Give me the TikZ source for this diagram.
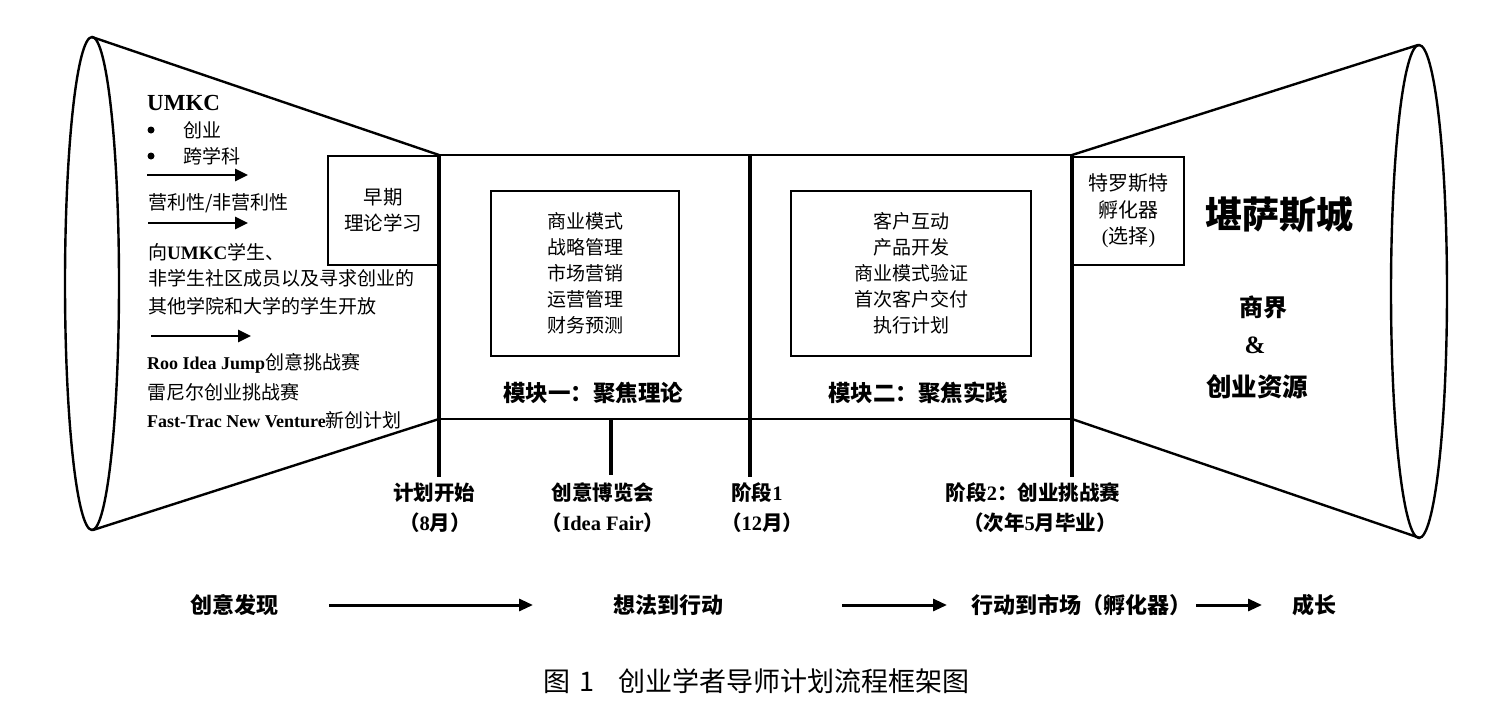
\documentclass[tikz,border=0pt]{standalone}
\usepackage{fontspec}
\setmainfont{Noto Sans CJK SC}
\newfontfamily\lat{Liberation Serif}
\usetikzlibrary{arrows.meta}
\tikzset{
  frameline/.style={line width=2pt},
  barline/.style={line width=4.5pt},
  funnel/.style={line width=2.4pt},
  txt/.style={inner sep=0pt, anchor=west, font=\fontsize{19}{22}\selectfont},
  boxtxt/.style={inner sep=0pt, align=center, font=\fontsize{19}{26}\selectfont},
  lbl/.style={inner sep=0pt, font=\bfseries\fontsize{20.5}{22}\selectfont},
  modlbl/.style={inner sep=0pt, font=\bfseries\fontsize{22.5}{24}\selectfont},
  flowtxt/.style={inner sep=0pt, font=\bfseries\fontsize{22}{24}\selectfont},
  dot/.style={circle, fill, inner sep=0pt, minimum size=7pt},
  smallarrow/.style={line width=2.8pt, -{Triangle[length=13pt,width=12pt]}},
  flowarrow/.style={line width=3pt, -{Triangle[length=14pt,width=12pt]}},
}
\begin{document}
\begin{tikzpicture}[x=1pt,y=-1pt]
\useasboundingbox[fill=white] (0,0) rectangle (1500,720);

% key coordinates
\coordinate (LT) at (92,37);
\coordinate (LB) at (93,530);
\coordinate (RT) at (1418,45);
\coordinate (RB) at (1420,538);
\coordinate (A) at (439,155);
\coordinate (B) at (1072,155);
\coordinate (C) at (1072,419);
\coordinate (D) at (439,419);

% funnels
\draw[funnel] (92,283.5) ellipse [x radius=27, y radius=246.5];
\draw[funnel] (1419,291.5) ellipse [x radius=28, y radius=246.5];
\draw[funnel] (LT) -- (A);
\draw[funnel] (LB) -- (D);
\draw[funnel] (RT) -- (B);
\draw[funnel] (RB) -- (C);

% main frame
\draw[frameline] (A) rectangle (C);

% side boxes
\node[draw, frameline, minimum width=110, minimum height=109, anchor=north east, boxtxt, font=\fontsize{19.5}{26}\selectfont] (early) at (439,155) {早期\\理论学习};
\node[draw, frameline, minimum width=111, minimum height=108, anchor=north west, boxtxt, font=\fontsize{20}{26.5}\selectfont] (incub) at (1072,156) {特罗斯特\\孵化器\\{\lat(}选择{\lat)}};

% inner boxes
\node[draw, frameline, minimum width=188, minimum height=165, boxtxt] (mod1) at (585,273.5) {商业模式\\战略管理\\市场营销\\运营管理\\财务预测};
\node[draw, frameline, minimum width=240, minimum height=165, boxtxt] (mod2) at (911,273.5) {客户互动\\产品开发\\商业模式验证\\首次客户交付\\执行计划};
\node[modlbl] (mod1lbl) at (593,393) {模块一：聚焦理论};
\node[modlbl] (mod2lbl) at (918,393) {模块二：聚焦实践};

% vertical bars
\coordinate (v1t) at (439,155); \coordinate (v1b) at (439,477);
\coordinate (v2t) at (750,155); \coordinate (v2b) at (750,477);
\coordinate (v3t) at (1072,155); \coordinate (v3b) at (1072,477);
\coordinate (v4t) at (611,419); \coordinate (v4b) at (611,475);
\draw[barline] (v1t) -- (v1b);
\draw[barline] (v2t) -- (v2b);
\draw[barline] (v3t) -- (v3b);
\draw[barline] (v4t) -- (v4b);

% milestone labels
\node[lbl] (m1a) at (434,493) {计划开始};
\node[lbl] (m1b) at (435,523) {（{\lat\bfseries 8}月）};
\node[lbl] (m2a) at (603,493) {创意博览会};
\node[lbl] (m2b) at (603,523) {（{\lat\bfseries Idea Fair}）};
\node[lbl] (m3a) at (757,493) {阶段{\lat\bfseries 1}};
\node[lbl] (m3b) at (762,523) {（{\lat\bfseries 12}月）};
\node[lbl] (m4a) at (1033,493) {阶段{\lat\bfseries 2}：创业挑战赛};
\node[lbl] (m4b) at (1040,523) {（次年{\lat\bfseries 5}月毕业）};

% left funnel text
\node[txt, font=\lat\bfseries\fontsize{23}{26}\selectfont] (umkc) at (147,103) {UMKC};
\node[dot] (b1) at (151,130) {};
\node[txt] (t1) at (183,130) {创业};
\node[dot] (b2) at (151,156) {};
\node[txt] (t2) at (183,156) {跨学科};
\coordinate (ar1s) at (147,175); \coordinate (ar1e) at (248,175);
\draw[smallarrow] (ar1s) -- (ar1e);
\node[txt] (t3) at (148,203) {营利性/非营利性};
\coordinate (ar2s) at (148,223); \coordinate (ar2e) at (248,223);
\draw[smallarrow] (ar2s) -- (ar2e);
\node[txt] (t4) at (148,252) {向{\lat\bfseries UMKC}学生、};
\node[txt] (t5) at (148,278) {非学生社区成员以及寻求创业的};
\node[txt] (t6) at (148,306) {其他学院和大学的学生开放};
\coordinate (ar3s) at (151,336); \coordinate (ar3e) at (251,336);
\draw[smallarrow] (ar3s) -- (ar3e);
\node[txt] (t7) at (147,363) {{\lat\bfseries\fontsize{18}{22}\selectfont Roo Idea Jump}创意挑战赛};
\node[txt] (t8) at (147,392) {雷尼尔创业挑战赛};
\node[txt] (t9) at (147,420) {{\lat\bfseries\fontsize{18}{22}\selectfont Fast-Trac New Venture}新创计划};

% right funnel text
\node[inner sep=0pt, font=\bfseries\fontsize{37}{40}\selectfont] (kc) at (1279,215) {堪萨斯城};
\node[inner sep=0pt, font=\bfseries\fontsize{24}{26}\selectfont] (biz) at (1263,307) {商界};
\node[inner sep=0pt, font=\lat\bfseries\fontsize{25}{26}\selectfont] (amp) at (1255,345) {\&};
\node[inner sep=0pt, font=\bfseries\fontsize{25.5}{28}\selectfont] (res) at (1257,387) {创业资源};

% bottom flow
\node[flowtxt] (f1) at (234,605) {创意发现};
\node[flowtxt] (f2) at (668,605) {想法到行动};
\node[flowtxt] (f3) at (1081,605) {行动到市场（孵化器）};
\node[flowtxt] (f4) at (1314,605) {成长};
\coordinate (fa1s) at (329,605); \coordinate (fa1e) at (533,605);
\coordinate (fa2s) at (842,605); \coordinate (fa2e) at (947,605);
\coordinate (fa3s) at (1196,605); \coordinate (fa3e) at (1262,605);
\draw[flowarrow] (fa1s) -- (fa1e);
\draw[flowarrow] (fa2s) -- (fa2e);
\draw[flowarrow] (fa3s) -- (fa3e);

% caption
\node[anchor=west, inner sep=0pt, font=\fontsize{27}{30}\selectfont] (cap) at (543,681) {图\hspace{9pt}1\hspace{24pt}创业学者导师计划流程框架图};
\end{tikzpicture}
\end{document}
